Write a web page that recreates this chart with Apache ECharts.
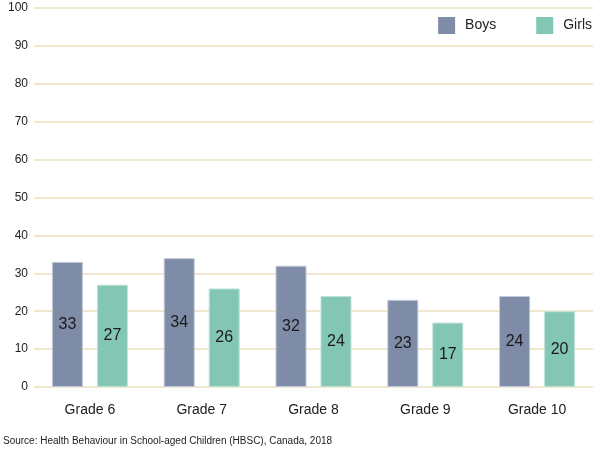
<!DOCTYPE html>
<html>
<head>
  <meta charset="utf-8">
  <title>HBSC Grade chart</title>
  <script src="https://cdn.jsdelivr.net/npm/echarts@6/dist/echarts.min.js"></script>
  <style>
    body { margin: 0; background: #fff; }
    #main { width: 600px; height: 452px; }
  </style>
</head>
<body>
  <div id="main"></div>

  <script>
    // 数据
    var grades = ['Grade 6', 'Grade 7', 'Grade 8', 'Grade 9', 'Grade 10'];
    var boys = [33, 34, 32, 23, 24];
    var girls = [27, 26, 24, 17, 20];
    var sourceText = 'Source: Health Behaviour in School-aged Children (HBSC), Canada, 2018';

    var font = '"Liberation Sans", Arial, sans-serif';

    var chart = echarts.init(document.getElementById('main'));

    var option = {
      animation: false,
      textStyle: { fontFamily: font },
      grid: { left: 34, right: 7, top: 8, bottom: 65 },
      legend: {
        right: 3,
        top: 12,
        itemWidth: 17,
        itemHeight: 17,
        itemGap: 40,
        icon: 'rect',
        itemStyle: { borderWidth: 0 },
        textStyle: { fontSize: 14, color: '#222', fontFamily: font, padding: [0, 0, 0, 5] },
        data: ['Boys', 'Girls']
      },
      graphic: [{
        type: 'text',
        left: 3,
        top: 436,
        style: { text: sourceText, fontSize: 10, fill: '#222', fontFamily: font }
      }],
      xAxis: {
        type: 'category',
        data: grades,
        axisLine: { show: false },
        axisTick: { show: false },
        axisLabel: { fontSize: 14, color: '#222', margin: 16 }
      },
      yAxis: {
        type: 'value',
        min: 0,
        max: 100,
        interval: 10,
        axisLine: { show: false },
        axisTick: { show: false },
        axisLabel: { fontSize: 12, color: '#222', margin: 6 },
        splitLine: { lineStyle: { color: '#efe8cc', width: 2 } }
      },
      series: [
        {
          name: 'Boys',
          type: 'bar',
          data: boys,
          barGap: '45%',
          barCategoryGap: '32%',
          itemStyle: { color: '#7f8ca8', borderColor: '#c3cad8', borderWidth: 1 },
          label: { show: true, position: 'inside', fontSize: 16, color: '#1a1a1a' }
        },
        {
          name: 'Girls',
          type: 'bar',
          data: girls,
          itemStyle: { color: '#84c6b4', borderColor: '#c2e3da', borderWidth: 1 },
          label: { show: true, position: 'inside', fontSize: 16, color: '#1a1a1a' }
        }
      ]
    };

    chart.setOption(option);
  </script>
</body>
</html>
